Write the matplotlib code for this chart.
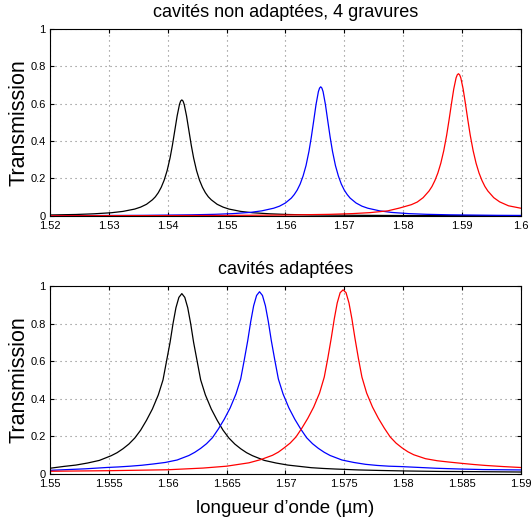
import matplotlib
matplotlib.use('Agg')
from matplotlib import pyplot as plt
from matplotlib.ticker import FormatStrFormatter

plt.rcParams['font.family'] = ['Liberation Sans', 'DejaVu Sans']

# --- top panel : cavites non adaptees (lambda in um, transmission) ---
top_black_x = [1.5200, 1.5244, 1.5274, 1.5304, 1.5324, 1.5344, 1.5354, 1.5364, 1.5374, 1.5379,
               1.5384, 1.5389, 1.5394, 1.5399, 1.5404, 1.5408, 1.5412, 1.5416, 1.5420, 1.5422,
               1.5424, 1.5426, 1.5428, 1.5432, 1.5436, 1.5440, 1.5444, 1.5449, 1.5454, 1.5459,
               1.5464, 1.5469, 1.5474, 1.5484, 1.5494, 1.5504, 1.5524, 1.5544, 1.5574, 1.5604,
               1.5644, 1.5724, 1.5824, 1.6000]
top_black_y = [0.0049, 0.0075, 0.011, 0.0168, 0.024, 0.0365, 0.047, 0.062, 0.086, 0.102,
               0.124, 0.153, 0.191, 0.242, 0.310, 0.378, 0.456, 0.534, 0.596, 0.614,
               0.620, 0.614, 0.596, 0.534, 0.456, 0.378, 0.310, 0.242, 0.191, 0.153,
               0.124, 0.102, 0.086, 0.062, 0.047, 0.0365, 0.024, 0.0168, 0.011, 0.0075,
               0.0049, 0.003, 0.0015, 0.0008]

top_blue_x = [1.5200, 1.5260, 1.5360, 1.5440, 1.5480, 1.5510, 1.5540, 1.5560, 1.5580, 1.5590,
              1.5600, 1.5610, 1.5615, 1.5620, 1.5625, 1.5630, 1.5635, 1.5640, 1.5644, 1.5648,
              1.5652, 1.5656, 1.5658, 1.5660, 1.5662, 1.5664, 1.5668, 1.5672, 1.5676, 1.5680,
              1.5685, 1.5690, 1.5695, 1.5700, 1.5705, 1.5710, 1.5720, 1.5730, 1.5740, 1.5760,
              1.5780, 1.5810, 1.5840, 1.5880, 1.5960, 1.6000]
top_blue_y = [0.0013, 0.0017, 0.003, 0.0057, 0.0084, 0.012, 0.0186, 0.027, 0.041, 0.052,
              0.069, 0.095, 0.114, 0.138, 0.170, 0.213, 0.269, 0.345, 0.421, 0.507,
              0.595, 0.664, 0.683, 0.690, 0.683, 0.664, 0.595, 0.507, 0.421, 0.345,
              0.269, 0.213, 0.170, 0.138, 0.114, 0.095, 0.069, 0.052, 0.041, 0.027,
              0.0186, 0.012, 0.0084, 0.0057, 0.003, 0.0024]

top_red_x = [1.5200, 1.5394, 1.5494, 1.5594, 1.5674, 1.5714, 1.5744, 1.5774, 1.5794, 1.5814,
             1.5824, 1.5834, 1.5844, 1.5849, 1.5854, 1.5859, 1.5864, 1.5869, 1.5874, 1.5878,
             1.5882, 1.5886, 1.5890, 1.5892, 1.5894, 1.5896, 1.5898, 1.5902, 1.5906, 1.5910,
             1.5914, 1.5919, 1.5924, 1.5929, 1.5934, 1.5939, 1.5944, 1.5954, 1.5964, 1.5979,
             1.6000]
top_red_y = [0.0008, 0.0016, 0.0025, 0.0044, 0.0082, 0.0122, 0.0175, 0.027, 0.042, 0.060,
             0.074, 0.0974, 0.133, 0.157, 0.189, 0.229, 0.281, 0.348, 0.432, 0.512,
             0.597, 0.678, 0.738, 0.754, 0.760, 0.754, 0.738, 0.678, 0.597, 0.512,
             0.432, 0.348, 0.281, 0.229, 0.189, 0.157, 0.133, 0.0974, 0.075, 0.054,
             0.041]

# --- bottom panel : cavites adaptees ---
bot_black_x = [1.5500, 1.5512, 1.5522, 1.5532, 1.5542, 1.5552, 1.5557, 1.5562, 1.5567, 1.5572,
               1.5577, 1.5582, 1.5587, 1.5592, 1.5596, 1.5599, 1.5602, 1.56045, 1.5607, 1.56095,
               1.5612, 1.56145, 1.5617, 1.56195, 1.5622, 1.5625, 1.5628, 1.5632, 1.5637, 1.5642,
               1.5647, 1.5652, 1.5657, 1.5662, 1.5667, 1.5672, 1.5682, 1.5692, 1.5702, 1.5712,
               1.5722, 1.5732, 1.5742, 1.5762, 1.5782, 1.5802, 1.5832, 1.5862, 1.5900]
bot_black_y = [0.029, 0.039, 0.046, 0.057, 0.071, 0.096, 0.112, 0.133, 0.158, 0.190,
               0.232, 0.285, 0.345, 0.420, 0.500, 0.600, 0.700, 0.800, 0.885, 0.940,
               0.960, 0.940, 0.885, 0.800, 0.700, 0.600, 0.500, 0.420, 0.345, 0.285,
               0.232, 0.190, 0.158, 0.133, 0.112, 0.096, 0.071, 0.057, 0.046, 0.039,
               0.032, 0.028, 0.025, 0.020, 0.017, 0.0145, 0.012, 0.011, 0.009]

bot_blue_x = [1.5500, 1.5530, 1.5548, 1.5558, 1.5568, 1.5578, 1.5588, 1.5598, 1.5608, 1.5618,
              1.5623, 1.5628, 1.5633, 1.5638, 1.5643, 1.5648, 1.5653, 1.5658, 1.5662, 1.5665,
              1.5668, 1.56705, 1.5673, 1.56755, 1.5678, 1.56805, 1.5683, 1.56855, 1.5688, 1.5691,
              1.5694, 1.5698, 1.5703, 1.5708, 1.5713, 1.5718, 1.5723, 1.5728, 1.5733, 1.5738,
              1.5748, 1.5758, 1.5768, 1.5778, 1.5788, 1.5798, 1.5808, 1.5828, 1.5848, 1.5868,
              1.5900]
bot_blue_y = [0.018, 0.026, 0.033, 0.036, 0.040, 0.045, 0.052, 0.060, 0.073, 0.097,
              0.114, 0.135, 0.160, 0.192, 0.238, 0.290, 0.350, 0.425, 0.505, 0.605,
              0.710, 0.810, 0.895, 0.950, 0.970, 0.950, 0.895, 0.810, 0.710, 0.605,
              0.505, 0.425, 0.350, 0.290, 0.238, 0.192, 0.160, 0.135, 0.114, 0.097,
              0.073, 0.060, 0.050, 0.044, 0.040, 0.038, 0.035, 0.029, 0.025, 0.022,
              0.020]

bot_red_x = [1.5500, 1.5550, 1.5600, 1.5630, 1.5650, 1.5669, 1.5679, 1.5689, 1.5694, 1.5699,
             1.5704, 1.5709, 1.5714, 1.5719, 1.5724, 1.5729, 1.5733, 1.5736, 1.5739, 1.57415,
             1.5744, 1.57465, 1.5749, 1.57515, 1.5754, 1.57565, 1.5759, 1.5762, 1.5765, 1.5769,
             1.5774, 1.5779, 1.5784, 1.5789, 1.5794, 1.5799, 1.5804, 1.5809, 1.5819, 1.5829,
             1.5839, 1.5850, 1.5860, 1.5870, 1.5885, 1.5900]
bot_red_y = [0.013, 0.016, 0.021, 0.030, 0.040, 0.058, 0.075, 0.098, 0.115, 0.138,
             0.163, 0.196, 0.243, 0.295, 0.355, 0.430, 0.515, 0.615, 0.725, 0.825,
             0.910, 0.965, 0.980, 0.965, 0.910, 0.825, 0.725, 0.615, 0.515, 0.430,
             0.355, 0.295, 0.243, 0.196, 0.163, 0.138, 0.117, 0.101, 0.080, 0.069,
             0.062, 0.055, 0.049, 0.044, 0.038, 0.033]

top_ticks = [1.52, 1.53, 1.54, 1.55, 1.56, 1.57, 1.58, 1.59, 1.6]
bot_ticks = [1.55, 1.555, 1.56, 1.565, 1.57, 1.575, 1.58, 1.585, 1.59]
y_ticks = [0, 0.2, 0.4, 0.6, 0.8, 1]

fig = plt.figure(figsize=(5.32, 5.24), dpi=100)
ax1 = fig.add_axes([0.094, 0.588, 0.885, 0.357])
ax2 = fig.add_axes([0.094, 0.096, 0.885, 0.358])


def style(ax, xt, xlim, title):
    ax.set_xlim(*xlim)
    ax.set_ylim(0, 1)
    ax.set_xticks(xt)
    ax.set_yticks(y_ticks)
    ax.xaxis.set_major_formatter(FormatStrFormatter('%g'))
    ax.yaxis.set_major_formatter(FormatStrFormatter('%g'))
    ax.tick_params(direction='in', top=True, right=True, labelsize=8, length=3)
    ax.tick_params(axis='x', pad=4)
    ax.tick_params(axis='y', pad=3)
    ax.grid(True, color='#808080', linestyle=(0, (1, 3.5)), linewidth=0.8)
    ax.set_ylabel('Transmission', fontsize=15.5, labelpad=1)
    ax.set_title(title, fontsize=13, pad=8.5)
    for s in ax.spines.values():
        s.set_linewidth(0.8)


ax1.plot(top_black_x, top_black_y, color='black', lw=0.9)
ax1.plot(top_blue_x, top_blue_y, color='blue', lw=0.9)
ax1.plot(top_red_x, top_red_y, color='red', lw=0.9)
style(ax1, top_ticks, (1.52, 1.6), 'cavités non adaptées, 4 gravures')

ax2.plot(bot_black_x, bot_black_y, color='black', lw=0.9)
ax2.plot(bot_blue_x, bot_blue_y, color='blue', lw=0.9)
ax2.plot(bot_red_x, bot_red_y, color='red', lw=0.9)
style(ax2, bot_ticks, (1.55, 1.59), 'cavités adaptées')
ax2.set_xlabel('longueur d\u2019onde (\u00b5m)', fontsize=13.5, labelpad=8)

fig.savefig('out.png', dpi=100)
